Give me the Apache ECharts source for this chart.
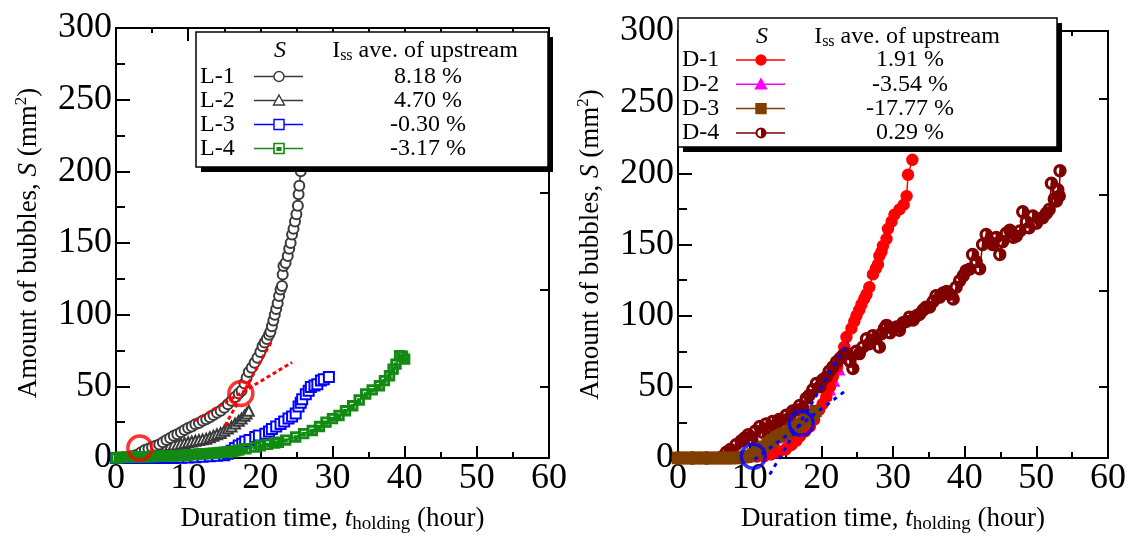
<!DOCTYPE html>
<html>
<head>
<meta charset="utf-8">
<script src="https://cdn.jsdelivr.net/npm/echarts@6/dist/echarts.min.js"></script>
<style>html,body{margin:0;padding:0;background:#fff;}#c{width:1131px;height:539px;}</style>
</head>
<body>
<div id="c"></div>
<script>
// ---------- tick labels ----------
const X_TICKS = [0, 10, 20, 30, 40, 50, 60];
const Y_TICKS = [0, 50, 100, 150, 200, 250, 300];
const RIGHT_TICKS = [50, 117.5, 185, 252.5];

// ---------- left panel (L series) ----------
const L1_t = [0,0.5,1,1.5,2,2.5,3,3.5,4,4.5,5,5.5,6,6.5,7,7.5,8,8.5,9,9.5,10,10.5,11,11.5,12,12.5,13,13.5,14,14.5,15,15.5,16,16.5,17,17.4,17.8,18.1,18.4,18.8,19.2,19.6,20,20.3,20.6,20.9,21.2,21.4,21.6,21.8,22,22.2,22.4,22.6,22.8,23,23.1,23.2,23.5,23.8,24,24.2,24.4,24.6,24.8,25,25.2,25.3,25.4,25.6,25.8];
const L1_s = [0,0,0.3,0.5,1,1.5,2.5,4,5.5,6.5,7.5,8.5,9.5,11,12.5,14,15.5,16.5,18,19.5,21,22,23.5,24.5,26,27,28.5,30,31.5,33,35,37.5,40,42.5,45,47,52,56,60,63,66.5,70,74,78,80.5,83,86,88,92,96,100,104,108,113,117.5,120,128,134,136,141,146,150,156,160,165,170,176,184,190,200,212];
const L2_t = [0,1,2,3,3.5,4,4.5,5,5.5,6,6.5,7,7.5,8,8.5,9,9.5,10,10.5,11,11.5,12,12.5,13,13.5,14,14.5,15,15.5,16,16.5,17,17.4,17.8,18.1,18.4];
const L2_s = [0,0,0.5,1.5,3,4.5,6,6.5,7,7.5,8,8.5,9,9.5,9.5,10,10.5,11,11.5,12,12.5,13,13.5,14.5,15.5,16.5,17.5,19,20.5,22,24,26,27.5,29.5,31,33];
const L3_t = [0,1,2,3,4,5,6,7,8,9,10,11,12,13,14,15,15.5,16,16.5,17,17.5,17.9,18.5,19.3,19.8,20.7,21.2,21.6,22.2,22.8,23.3,23.9,24.4,24.9,25.3,25.6,25.8,26.3,26.7,27,27.5,27.9,28.4,28.8,29.5];
const L3_s = [0,0,0,0,0,0,0,0,0,0.2,0.4,0.6,0.9,1.2,1.5,2,3,5,7,8.8,10,11.5,12.5,14.6,15.7,17,18.5,20.3,22,23.8,25.5,27.5,29,31,36,38.5,41,44.5,47,49.5,50.5,51.5,54,55,56.5];
const L4_t = [0,0.5,1,1.5,2,2.5,3,3.5,4,4.5,5,5.5,6,6.5,7,7.5,8,8.5,9,9.5,10,10.5,11,11.5,12,12.5,13,13.5,14,14.5,15,15.5,16,16.5,17,18,19.3,20,21,22,22.5,23.5,24.9,26,27.2,28.2,29.1,30,30.9,31.8,32.8,33.7,34.6,35.5,36.5,37.2,37.9,38.4,38.8,39.3,39.7,40];
const L4_s = [0,0.3,0.5,0.5,0.6,0.6,0.7,0.8,0.8,0.9,1,1,1.1,1.2,1.3,1.4,1.5,1.6,1.7,1.8,2,2.2,2.5,2.8,3,3,3.2,3.4,3.6,3.8,4,4.2,4.4,5,5.5,6.5,7.6,8.5,9.5,10.5,11,12.5,14.6,17,19.2,22,25,27.5,29.6,33,36.5,40.5,44.7,47.5,50.4,54,57.4,62,65.5,71.3,71,69];
// onset markers and tangent lines (left)
const RED_MARK_t = [3.3, 17.3];
const RED_MARK_s = [7, 45];
const RED_LINE_A_t = [10.9, 24.4];
const RED_LINE_A_s = [26, 66.7];
const RED_LINE_B_t = [15.1, 21.6];
const RED_LINE_B_s = [22.6, 81.7];

// ---------- right panel (D series) ----------
const D1_t = [0,1,2,3,4,5,6,7,8,9,10,11,12,13,14,15,15.8,16.5,17,17.7,18.4,19,19.7,20.2,20.7,21.2,21.6,22.2,22.8,23.2,23.5,24.2,24.6,24.9,25.3,25.6,26,26.3,26.7,27.2,27.6,27.9,28.1,28.4,28.6,29.1,29.3,29.8,30.2,30.9,31.5,31.9,32.1,32.7];
const D1_s = [0,0,0,0,0,0,0,0,0,0.3,0.6,1,1.2,2.5,4,5.9,9,12,15.2,18.5,22.1,27,33.8,38,43,50,57,64,71,78,85,91,96,100,104,108,112,115,120,129,133,136,142,145,149,154,161,166,171,174.6,178,184,199,209.5];
const D2_t = [0,1,2,3,4,5,6,7,8,9,10,11,12,13,14,15,16,16.8,17.5,18.2,19,19.6,20.2,20.7,21.2,21.8,22.5,22.9,23.2,23.5];
const D2_s = [0,0,0,0,0,0,0,0,0.3,0.5,1,2,3.5,5,7,10,13.5,17,21,26,31,36,41,44,48,54,62,70,76,79];
const D3_t = [0,0.5,1,1.5,2,2.5,3,3.5,4,4.5,5,5.5,6,6.5,7,7.5,8,8.5,9,9.5,10,10.5,11,11.5,12,12.5,12.8,13.2,13.7,14.2,14.6,15.1,15.6,16,16.5,17,17.5,17.9,18.3,18.8,19.2];
const D3_s = [0,0,0,0,0,0,0,0,0,0,0,0,0,0,0,0,0,0.2,0.5,1,1.5,2.5,4,6,8,10,11,12.5,14.5,15.5,16.5,17.5,19,20.5,22,23.5,25,26.8,28.5,30.5,33];
const D4_t = [0,2,4,6,6.75,7.3,8.1,8.8,9.3,9.8,10.3,10.8,11.4,11.8,12.3,12.8,13.2,13.7,14.1,14.6,15.1,15.6,16,16.5,17,17.4,17.9,18.3,18.8,19.3,19.8,20.2,20.7,21.1,21.6,22.1,22.6,23,23.5,24,24.4,24.9,25.3,25.8,26.3,26.7,27.2,27.6,28.1,28.4,28.8,29.1,29.6,30,30.5,30.9,31.4,31.9,32.3,32.8,33.3,33.7,34.2,34.6,35.1,35.6,36,36.5,37,37.5,37.9,38.4,38.8,39.3,39.8,40.2,40.7,41.1,41.6,42.1,42.5,43,43.5,43.9,44.4,44.9,45.3,45.8,46.3,46.8,47.2,47.7,48.1,48.6,49,49.5,50,50.4,50.9,51.4,51.8,52.1,52.5,52.8,53,53.2,53.3];
const D4_s = [0,0,0,0.5,4,6,9.4,12,14,16.3,13,19,22.1,18,24,21,25.6,23,27,26.8,30,28,33,33.8,37,35,41.9,44,48,52.4,50,55,57,61,64,67.5,70,72,73.3,68,62.8,75,73.3,78,83.8,80.3,86,84,78,87.3,91,93.2,88,91,92,89.7,95,96,99,97,100,101,104,105.9,106,110,114,113,116,117,115,111.7,120,124.6,128,131.6,132.7,143,138,133,150,157,152,150,155,143,152,158,160,155,156,159.5,173,166,161.8,170,165,168,168.8,172,174.6,193,182,180.5,188.5,184,201.8];
// onset markers and tangent lines (right)
const BLUE_MARK_t = [10.5, 17.2];
const BLUE_MARK_s = [1.2, 24.4];
const BLUE_LINE_C_t = [12.8, 23.7];
const BLUE_LINE_C_s = [-11.6, 81.5];
const BLUE_LINE_D_t = [10.7, 23.2];
const BLUE_LINE_D_s = [-1.1, 46.6];

// ---------- legend contents ----------
const L_NAMES = ['L-1', 'L-2', 'L-3', 'L-4'];
const L_PCTS = ['8.18 %', '4.70 %', '-0.30 %', '-3.17 %'];
const D_NAMES = ['D-1', 'D-2', 'D-3', 'D-4'];
const D_PCTS = ['1.91 %', '-3.54 %', '-17.77 %', '0.29 %'];

// ---------- styling ----------
const FONT = 'Liberation Serif';
const GRAY = '#3a3a3a', BLUE = '#0000ff', GREEN = '#138a13', RED = '#ff0000', MAGENTA = '#ff00ff', BROWN = '#7f3f00', DARKRED = '#800000';
const SQ_IN = 'path://M0,0L20,0L20,20L0,20Z M3,3L3,17L17,17L17,3Z M7,8L13,8L13,14L7,14Z';
const HALF = 'path://M10,0A10,10,0,1,1,10,20A10,10,0,1,1,10,0Z M10,3A7,7,0,1,0,10,17A7,7,0,1,0,10,3Z M10,3A7,7,0,0,1,10,17Z';

function pairs(t, s) { return t.map((x, i) => [x, s[i]]); }

const axLine = { onZero: false, lineStyle: { color: '#000', width: 2 } };
const tickStyle = { color: '#000', width: 2 };
const labelStyle = { fontFamily: FONT, fontSize: 36, color: '#000', fontWeight: 'normal' };

function makeXAxes(g) {
  return [
    {
      type: 'value', gridIndex: g, position: 'bottom',
      min: X_TICKS[0], max: X_TICKS[X_TICKS.length - 1], interval: X_TICKS[1] - X_TICKS[0],
      axisLine: axLine,
      axisTick: { inside: true, length: 12, lineStyle: tickStyle },
      minorTick: { show: true, splitNumber: 2, length: 6, lineStyle: tickStyle },
      splitLine: { show: false }, minorSplitLine: { show: false },
      axisLabel: Object.assign({ margin: 3 }, labelStyle),
      name: '{a|Duration time, }{i|t}{s|holding}{a| (hour)}',
      nameLocation: 'middle', nameGap: 45,
      nameTextStyle: {
        fontFamily: FONT, fontSize: 27, color: '#000',
        rich: {
          a: { fontFamily: FONT, fontSize: 27, color: '#000' },
          i: { fontFamily: FONT, fontSize: 27, fontStyle: 'italic', color: '#000' },
          s: { fontFamily: FONT, fontSize: 19, color: '#000', padding: [12, 0, 0, 0] }
        }
      }
    },
    {
      type: 'value', gridIndex: g, position: 'top',
      min: X_TICKS[0], max: X_TICKS[X_TICKS.length - 1], interval: X_TICKS[1] - X_TICKS[0],
      axisLine: axLine,
      axisTick: { inside: true, length: 13, lineStyle: tickStyle },
      minorTick: { show: true, splitNumber: 2, length: 5, lineStyle: tickStyle },
      splitLine: { show: false }, minorSplitLine: { show: false },
      axisLabel: { show: false }
    }
  ];
}
function makeYAxes(g) {
  return [
    {
      type: 'value', gridIndex: g, position: 'left',
      min: Y_TICKS[0], max: Y_TICKS[Y_TICKS.length - 1], interval: Y_TICKS[1] - Y_TICKS[0],
      axisLine: axLine,
      axisTick: { inside: true, length: 14, lineStyle: tickStyle },
      minorTick: { show: true, splitNumber: 2, length: 9, lineStyle: tickStyle },
      splitLine: { show: false }, minorSplitLine: { show: false },
      axisLabel: Object.assign({ margin: 4 }, labelStyle),
      name: '{a|Amount of bubbles, }{i|S}{a| (mm}{p|2}{a|)}',
      nameLocation: 'middle', nameGap: 72, nameRotate: 90,
      nameTextStyle: {
        fontFamily: FONT, fontSize: 27, color: '#000',
        rich: {
          a: { fontFamily: FONT, fontSize: 27, color: '#000' },
          i: { fontFamily: FONT, fontSize: 27, fontStyle: 'italic', color: '#000' },
          p: { fontFamily: FONT, fontSize: 17, color: '#000', padding: [0, 0, 14, 0] }
        }
      }
    },
    {
      type: 'value', gridIndex: g, position: 'right',
      min: Y_TICKS[0], max: Y_TICKS[Y_TICKS.length - 1],
      axisLine: axLine,
      axisTick: { inside: true, length: 9, lineStyle: tickStyle, customValues: RIGHT_TICKS },
      splitLine: { show: false },
      axisLabel: { show: false }
    }
  ];
}

function dataSeries(name, xi, yi, t, s, symbol, size, color, z) {
  return {
    name, type: 'line', xAxisIndex: xi, yAxisIndex: yi,
    data: pairs(t, s), symbol, symbolSize: size, symbolKeepAspect: true,
    showSymbol: true, showAllSymbol: true, animation: false, z: z || 2,
    lineStyle: { color, width: 1.5 },
    itemStyle: { color: color, borderColor: color, borderWidth: 1.4 },
    emphasis: { disabled: true }
  };
}
function markSeries(xi, yi, t, s, color) {
  return {
    type: 'scatter', xAxisIndex: xi, yAxisIndex: yi, data: pairs(t, s),
    symbol: 'circle', symbolSize: 24, animation: false, z: 10,
    itemStyle: { color: 'rgba(0,0,0,0)', borderColor: color, borderWidth: 3.4 },
    emphasis: { disabled: true }
  };
}
function tangentSeries(xi, yi, t, s, color, dash) {
  return {
    type: 'line', xAxisIndex: xi, yAxisIndex: yi, data: pairs(t, s),
    symbol: 'none', clip: false, animation: false, z: 9,
    lineStyle: { color, width: 3, type: dash },
    emphasis: { disabled: true }
  };
}

// ---------- legend boxes (graphic) ----------
function txt(x, y, text, align, italic) {
  return { type: 'text', z: 52, x, y, style: {
    text, fontFamily: FONT, fontSize: 24, fontStyle: italic ? 'italic' : 'normal',
    fill: '#000', align, verticalAlign: 'middle'
  } };
}
function legendBox(bx, by, w, h, names, pcts, icons, rowTop, rowStep) {
  const els = [];
  els.push({ type: 'rect', z: 50, shape: { x: bx + 5, y: by + 5, width: w, height: h }, style: { fill: '#000' } });
  els.push({ type: 'rect', z: 51, shape: { x: bx, y: by, width: w, height: h }, style: { fill: '#fff', stroke: '#000', lineWidth: 1.5 } });
  els.push(txt(bx + 84, by + 19, 'S', 'center', true));
  els.push({ type: 'text', z: 52, x: bx + 229, y: by + 19, style: {
    text: '{a|I}{s|ss}{a| ave. of upstream}', align: 'center', verticalAlign: 'middle',
    rich: {
      a: { fontFamily: FONT, fontSize: 24, fill: '#000' },
      s: { fontFamily: FONT, fontSize: 16, fill: '#000', padding: [10, 0, 0, 0] }
    }
  } });
  names.forEach((n, i) => {
    const y = by + rowTop + i * rowStep;
    const ic = icons[i];
    const cx = bx + 83;
    els.push(txt(bx + 4, y, n, 'left', false));
    els.push({ type: 'line', z: 52, shape: { x1: bx + 58, y1: y, x2: bx + 107, y2: y }, style: { stroke: ic.color, lineWidth: 1.5 } });
    if (ic.kind === 'circle') {
      els.push({ type: 'circle', z: 53, shape: { cx, cy: y, r: 5 }, style: { fill: ic.fill, stroke: ic.color, lineWidth: 1.4 } });
    } else if (ic.kind === 'triangle') {
      els.push({ type: 'polygon', z: 53, shape: { points: [[cx, y - 5.5], [cx + 5.5, y + 4.5], [cx - 5.5, y + 4.5]] }, style: { fill: ic.fill, stroke: ic.color, lineWidth: 1.4 } });
    } else if (ic.kind === 'rect') {
      els.push({ type: 'rect', z: 53, shape: { x: cx - 5, y: y - 5, width: 10, height: 10 }, style: { fill: ic.fill, stroke: ic.color, lineWidth: 1.4 } });
    } else if (ic.kind === 'sqin') {
      els.push({ type: 'rect', z: 53, shape: { x: cx - 5, y: y - 5, width: 10, height: 10 }, style: { fill: '#fff', stroke: ic.color, lineWidth: 1.6 } });
      els.push({ type: 'rect', z: 54, shape: { x: cx - 2.5, y: y - 1.5, width: 5, height: 4 }, style: { fill: ic.color } });
    } else if (ic.kind === 'half') {
      els.push({ type: 'circle', z: 53, shape: { cx, cy: y, r: 5.5 }, style: { fill: ic.color } });
      els.push({ type: 'sector', z: 54, shape: { cx, cy: y, r0: 0, r: 3.5, startAngle: Math.PI / 2, endAngle: Math.PI * 1.5, clockwise: true }, style: { fill: '#fff' } });
    }
    els.push(txt(bx + 232, y, pcts[i], 'center', false));
  });
  return els;
}

const L_ICONS = [
  { kind: 'circle', color: GRAY, fill: '#fff' },
  { kind: 'triangle', color: GRAY, fill: '#fff' },
  { kind: 'rect', color: BLUE, fill: '#fff' },
  { kind: 'sqin', color: GREEN }
];
const D_ICONS = [
  { kind: 'circle', color: RED, fill: RED },
  { kind: 'triangle', color: MAGENTA, fill: MAGENTA },
  { kind: 'rect', color: BROWN, fill: BROWN },
  { kind: 'half', color: DARKRED }
];

const chart = echarts.init(document.getElementById('c'), null, { renderer: 'canvas' });
chart.setOption({
  backgroundColor: '#fff',
  animation: false,
  textStyle: { fontFamily: FONT, color: '#000' },
  grid: [
    { left: 116, top: 28, width: 433, height: 431, containLabel: false },
    { left: 678, top: 31, width: 430, height: 430, containLabel: false }
  ],
  xAxis: [...makeXAxes(0), ...makeXAxes(1)],
  yAxis: [...makeYAxes(0), ...makeYAxes(1)],
  series: [
    dataSeries('L-2', 0, 0, L2_t, L2_s, 'emptyTriangle', 10, GRAY, 2),
    dataSeries('L-1', 0, 0, L1_t, L1_s, 'emptyCircle', 10, GRAY, 3),
    dataSeries('L-3', 0, 0, L3_t, L3_s, 'emptyRect', 10, BLUE, 4),
    dataSeries('L-4', 0, 0, L4_t, L4_s, SQ_IN, 10, GREEN, 5),
    tangentSeries(0, 0, RED_LINE_A_t, RED_LINE_A_s, RED, [4, 3]),
    tangentSeries(0, 0, RED_LINE_B_t, RED_LINE_B_s, RED, [4, 3]),
    markSeries(0, 0, RED_MARK_t, RED_MARK_s, RED),

    dataSeries('D-2', 2, 2, D2_t, D2_s, 'triangle', 10, MAGENTA, 2),
    dataSeries('D-1', 2, 2, D1_t, D1_s, 'circle', 11, RED, 3),
    dataSeries('D-4', 2, 2, D4_t, D4_s, HALF, 12, DARKRED, 4),
    dataSeries('D-3', 2, 2, D3_t, D3_s, 'rect', 11, BROWN, 5),
    tangentSeries(2, 2, BLUE_LINE_C_t, BLUE_LINE_C_s, BLUE, [4, 5]),
    tangentSeries(2, 2, BLUE_LINE_D_t, BLUE_LINE_D_s, BLUE, [4, 5]),
    markSeries(2, 2, BLUE_MARK_t, BLUE_MARK_s, BLUE)
  ],
  graphic: [
    ...legendBox(196, 32, 352, 135, L_NAMES, L_PCTS, L_ICONS, 44.5, 24),
    ...legendBox(678, 18, 379, 129, D_NAMES, D_PCTS, D_ICONS, 42, 24.3)
  ]
});
</script>
</body>
</html>
